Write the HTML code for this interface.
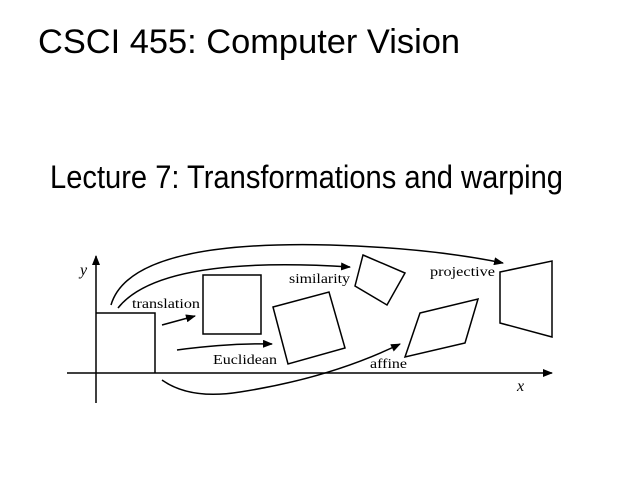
<!DOCTYPE html>
<html><head><style>html,body{margin:0;padding:0;background:#fff}svg{display:block}</style></head>
<body>
<svg width="640" height="480" viewBox="0 0 640 480" xmlns="http://www.w3.org/2000/svg">
<defs><marker id="a" markerWidth="10" markerHeight="8" refX="9" refY="4" orient="auto" markerUnits="userSpaceOnUse"><path d="M0,0 L10,4 L0,8 Z" fill="#000"/></marker></defs>
<text x="38" y="53" font-family="Liberation Sans, sans-serif" font-size="34" textLength="422" lengthAdjust="spacingAndGlyphs">CSCI 455: Computer Vision</text>
<text x="50" y="188" font-family="Liberation Sans, sans-serif" font-size="32" textLength="513" lengthAdjust="spacingAndGlyphs">Lecture 7: Transformations and warping</text>
<g stroke="#000" stroke-width="1.5" fill="none">
<line x1="96" y1="403" x2="96" y2="256" marker-end="url(#a)"/>
<line x1="67" y1="373" x2="552" y2="373" marker-end="url(#a)"/>
<polyline points="96,313 155,313 155,373"/>
<rect x="203" y="275" width="58" height="59"/>
<polygon points="273,307 329,292 345,348 288,364"/>
<polygon points="363,255 405,273 387,305 355,286"/>
<polygon points="420,313 478,299 465,343 405,357"/>
<polygon points="500,272 552,261 552,337 500,323"/>
<line x1="162" y1="325" x2="195" y2="316" marker-end="url(#a)"/>
<path d="M177,350 Q230,343 272,344" marker-end="url(#a)"/>
<path d="M118,308 Q160,255 350,267" marker-end="url(#a)"/>
<path d="M111,305 Q130,240 330,245 Q430,248 503,263" marker-end="url(#a)"/>
<path d="M162,380 Q190,400 240,392 Q330,378 400,344" marker-end="url(#a)"/>
</g>
<g font-family="Liberation Serif, serif" font-size="14">
<text x="80" y="275" font-style="italic" font-size="16">y</text>
<text x="517" y="391" font-style="italic" font-size="16">x</text>
<text x="132" y="308" textLength="68" lengthAdjust="spacingAndGlyphs">translation</text>
<text x="289" y="283" textLength="61" lengthAdjust="spacingAndGlyphs">similarity</text>
<text x="430" y="276" textLength="65" lengthAdjust="spacingAndGlyphs">projective</text>
<text x="213" y="364" textLength="64" lengthAdjust="spacingAndGlyphs">Euclidean</text>
<text x="370" y="368" textLength="37" lengthAdjust="spacingAndGlyphs">affine</text>
</g>
</svg>
</body></html>
